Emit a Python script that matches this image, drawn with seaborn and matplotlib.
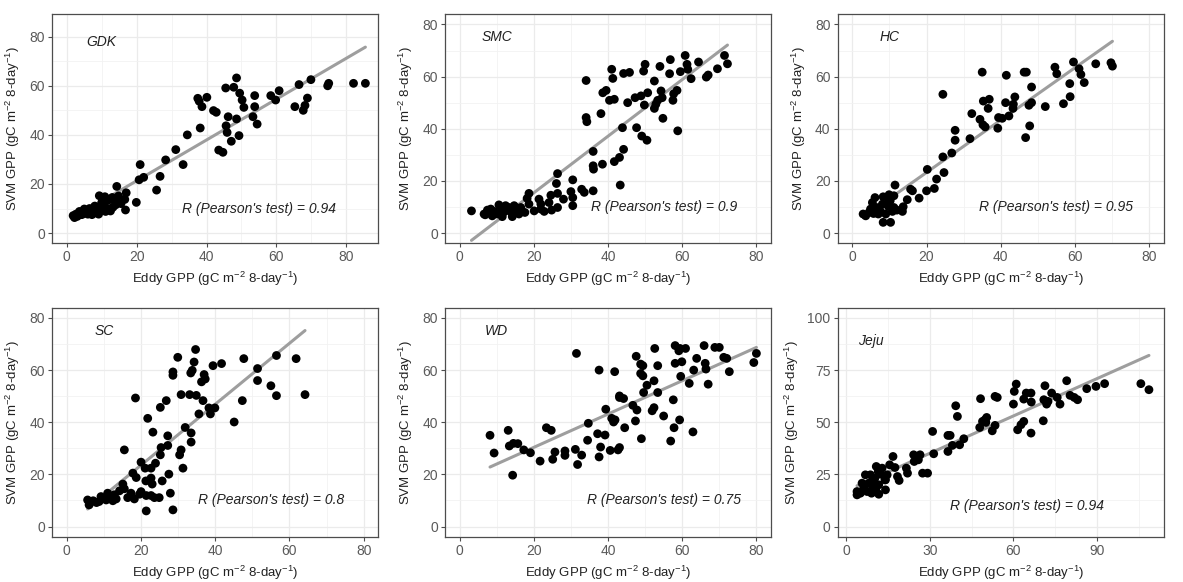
import numpy as np
import pandas as pd
import seaborn as sns
import matplotlib.pyplot as plt
from matplotlib.ticker import MultipleLocator

# ---- data (Eddy GPP vs SVM GPP, gC m-2 8-day-1) ----
sites = ["GDK", "SMC", "HC", "SC", "WD", "Jeju"]
r_values = ["0.94", "0.9", "0.95", "0.8", "0.75", "0.94"]

gdk_eddy = [85.5, 82.1, 75.0, 74.7, 69.9, 66.5, 68.9, 68.2, 67.7, 65.3,
            60.8, 59.8, 58.4, 53.8, 53.8, 53.3, 54.5, 50.7, 50.2, 49.5,
            49.3, 48.6, 47.8, 45.5, 48.6, 46.2, 47.1, 45.6, 45.9, 44.7,
            43.5, 42.8, 42.0, 40.1, 37.5, 37.9, 38.7, 38.2, 34.5, 31.2,
            33.3, 28.3, 26.7, 25.7, 21.0, 20.7, 22.0, 19.9, 17.0, 16.6,
            14.3, 14.8, 13.7, 13.2, 16.8, 10.9, 9.3, 10.6, 11.1, 9.6,
            9.1, 7.9, 6.9, 6.0, 5.0, 4.3, 3.6, 2.6, 1.8, 2.2,
            3.0, 5.5, 6.5, 7.2, 8.0, 10.0, 12.0, 13.0, 15.5, 14.0,
            7.5, 6.2, 4.8, 3.5, 11.8, 12.5]
gdk_svm = [61, 61, 61, 60, 62.5, 60.5, 55, 52, 50, 51.5,
           58, 54.2, 56, 56, 51.5, 47.4, 44.4, 51.2, 54.2, 57,
           39.7, 63.2, 59.4, 59.1, 46.5, 47.4, 37.4, 43.7, 41, 32.9,
           33.8, 49.2, 49.9, 55.3, 54.9, 53.7, 51.5, 42.8, 40, 34,
           27.9, 29.8, 23.1, 17.5, 27.9, 21.7, 22.7, 12.5, 16.4, 13.7,
           19, 15.1, 13.2, 10.5, 9.4, 14.8, 15.2, 11.8, 8.8, 10.5,
           7.7, 9.4, 8.4, 7.7, 9.8, 7.5, 8.8, 7.7, 7.1, 6.3,
           6.8, 8.5, 10, 7.5, 11, 12.5, 13.5, 14.5, 12, 11.5,
           8, 9, 8, 7.8, 10, 9]

smc_eddy = [71.4, 72.2, 69.5, 66.5, 67.0, 64.4, 62.4, 61.5, 60.8, 61.3,
            59.5, 58.6, 57.7, 57.5, 58.8, 56.8, 56.6, 54.0, 54.3, 54.6,
            53.4, 52.9, 52.5, 54.8, 52.5, 50.7, 50.0, 49.6, 49.8, 49.1,
            50.5, 48.9, 47.7, 47.3, 45.3, 45.8, 44.2, 43.9, 44.2, 43.1,
            43.3, 41.7, 41.7, 41.3, 41.0, 40.4, 39.5, 38.6, 38.1, 38.5,
            36.0, 36.0, 36.1, 36.0, 34.1, 34.1, 34.3, 32.9, 33.6, 30.5,
            30.0, 30.5, 30.5, 28.0, 26.4, 26.4, 26.1, 26.4, 24.6, 24.1,
            22.8, 21.9, 21.4, 21.9, 18.7, 18.2, 18.7, 17.6, 16.5, 15.1,
            14.2, 13.3, 12.4, 12.0, 11.1, 10.2, 9.3, 8.8, 7.5, 6.6,
            3.2, 13.8, 11.5, 8.4, 14.7, 10.6, 16.0, 20.1, 24.8, 6.9]
smc_svm = [68.1, 64.9, 63.0, 59.8, 60.6, 65.6, 59.2, 62.8, 68.1, 64.7,
           61.9, 54.7, 53.4, 50.9, 39.2, 66.5, 61.1, 63.9, 54.5, 51.9,
           50.9, 49.4, 47.8, 44.0, 58.3, 53.8, 64.7, 62.1, 49.1, 37.2,
           35.6, 52.6, 40.4, 51.9, 50.0, 61.6, 61.2, 40.4, 32.1, 29.0,
           18.4, 27.4, 51.3, 59.3, 62.8, 50.9, 54.7, 53.8, 45.8, 26.4,
           31.3, 25.8, 24.5, 16.2, 58.5, 44.3, 42.7, 16.8, 15.6, 20.4,
           15.9, 13.6, 10.5, 13.0, 15.2, 22.8, 19.0, 9.8, 14.5, 11.7,
           8.3, 9.2, 13.0, 11.1, 15.2, 13.3, 11.1, 7.9, 9.8, 8.5,
           6.3, 9.8, 10.5, 8.2, 9.2, 7.3, 8.3, 6.6, 8.8, 7.3,
           8.5, 8.1, 6.3, 9.2, 10.5, 10.8, 7.3, 8.5, 8.8, 7.0]

hc_eddy = [69.7, 70.1, 65.6, 59.6, 61.1, 61.6, 62.5, 58.6, 58.7, 56.9,
           54.6, 55.1, 52.0, 48.3, 48.3, 47.6, 47.8, 46.7, 46.9, 46.3,
           43.8, 43.4, 43.3, 42.2, 41.5, 41.3, 40.4, 39.4, 39.2, 36.9,
           36.6, 35.3, 35.0, 35.8, 35.2, 34.4, 32.2, 31.7, 27.7, 27.7,
           26.8, 24.4, 24.7, 24.4, 22.7, 22.1, 20.2, 20.0, 18.0, 16.2,
           15.7, 14.8, 13.7, 13.5, 11.5, 11.2, 9.9, 10.2, 9.7, 10.3,
           8.3, 8.3, 8.1, 7.6, 6.5, 6.1, 5.4, 4.9, 4.5, 3.6,
           2.9, 7.0, 9.0, 10.8, 12.0, 9.9, 11.2, 5.7]
hc_svm = [65.3, 64.0, 64.9, 65.6, 63.0, 60.8, 57.7, 57.3, 52.3, 49.6,
          63.6, 61.1, 48.5, 56.0, 50.0, 49.0, 41.1, 36.6, 61.7, 61.7,
          52.2, 49.4, 47.8, 44.9, 60.5, 50.0, 44.0, 44.3, 40.2, 51.3,
          47.8, 50.6, 61.7, 40.7, 41.5, 43.6, 45.8, 36.2, 39.4, 35.6,
          30.7, 29.2, 23.2, 53.2, 20.7, 17.1, 24.4, 16.2, 13.4, 16.2,
          16.8, 12.8, 10.1, 8.3, 18.4, 14.3, 14.7, 12.4, 10.2, 4.1,
          4.1, 13.9, 11.1, 8.3, 9.8, 13.6, 11.7, 9.2, 7.9, 6.6,
          7.3, 7.3, 7.3, 8.3, 8.8, 12.3, 9.8, 7.5]

sc_eddy = [64.2, 61.8, 56.5, 56.5, 55.0, 51.4, 51.4, 47.7, 47.3, 45.1,
           41.7, 39.4, 39.9, 38.7, 38.3, 37.3, 37.0, 36.7, 36.3, 35.6,
           34.9, 34.7, 34.3, 33.8, 33.4, 33.1, 33.5, 33.5, 31.9, 30.8,
           31.3, 30.8, 30.4, 29.9, 28.6, 28.6, 28.6, 27.9, 27.5, 27.2,
           27.2, 26.8, 25.4, 25.2, 25.7, 25.2, 23.9, 23.2, 23.0, 22.7,
           23.6, 21.3, 21.1, 21.8, 21.4, 21.4, 20.0, 19.6, 18.7, 18.5,
           17.8, 18.2, 15.5, 16.4, 15.1, 15.5, 14.2, 12.8, 12.4, 11.5,
           10.6, 9.2, 8.0, 7.1, 6.0, 5.6, 8.7, 11.0, 13.3, 17.3,
           22.7, 24.9, 20.0, 22.7]
sc_svm = [50.6, 64.4, 65.6, 50.2, 54.0, 60.6, 56.0, 64.4, 48.3, 40.1,
          62.5, 61.7, 45.5, 43.2, 45.5, 56.6, 58.3, 48.3, 55.5, 43.2,
          50.3, 67.9, 63.1, 59.9, 58.9, 50.6, 35.9, 32.4, 38.0, 50.6,
          22.4, 29.4, 27.5, 64.9, 59.3, 58.0, 6.4, 12.8, 20.1, 34.8,
          31.1, 48.3, 30.3, 27.5, 17.5, 45.7, 24.3, 36.2, 16.3, 18.6,
          11.1, 17.5, 22.4, 41.5, 6.0, 11.9, 13.4, 12.4, 18.8, 49.3,
          20.5, 10.6, 29.4, 11.1, 16.3, 14.5, 13.7, 12.2, 9.9, 11.8,
          10.2, 11.5, 9.2, 9.9, 8.3, 10.2, 9.6, 12.8, 10.6, 12.8,
          11.9, 11.1, 24.7, 22.4]

wd_eddy = [80.0, 79.3, 72.7, 72.0, 71.2, 70.0, 68.8, 65.9, 66.2, 66.4,
           67.0, 63.9, 63.1, 62.9, 61.9, 60.9, 59.4, 59.1, 59.9, 59.6,
           59.3, 58.1, 58.1, 57.6, 57.8, 56.9, 55.0, 53.4, 53.4, 52.6,
           52.4, 52.4, 51.9, 50.5, 49.4, 49.6, 49.4, 48.8, 48.8, 49.0,
           47.6, 47.8, 47.4, 46.7, 44.5, 44.2, 43.1, 43.1, 43.1, 42.7,
           41.9, 41.5, 41.0, 40.6, 41.8, 39.4, 39.2, 37.6, 38.0, 37.6,
           37.2, 34.7, 34.5, 32.9, 31.8, 31.2, 31.5, 28.4, 28.4, 25.7,
           25.1, 24.7, 23.4, 21.7, 19.1, 17.3, 15.7, 14.5, 13.4, 13.1,
           14.3, 9.3, 8.2]
wd_svm = [66.4, 62.9, 59.4, 64.5, 64.9, 68.7, 68.7, 69.4, 62.6, 60.4,
          54.6, 64.5, 60.0, 36.3, 54.9, 68.3, 68.3, 67.4, 63.2, 57.6,
          40.9, 69.4, 62.6, 48.6, 37.9, 32.8, 42.4, 61.7, 51.4, 68.3,
          55.9, 45.6, 44.4, 54.2, 57.8, 51.4, 61.7, 62.3, 58.7, 33.7,
          65.3, 44.7, 40.5, 46.5, 37.9, 49.1, 49.5, 50.1, 30.3, 29.4,
          40.9, 40.1, 41.5, 29.2, 59.4, 45.0, 35.1, 60.0, 30.5, 26.7,
          35.6, 39.6, 33.1, 27.4, 23.8, 29.6, 66.4, 29.0, 27.3, 28.6,
          25.8, 36.9, 37.9, 25.1, 28.3, 29.4, 31.8, 31.9, 30.9, 36.9,
          19.7, 28.2, 35.0]

jeju_eddy = [108.6, 105.7, 92.7, 89.6, 86.3, 83.0, 81.8, 80.3, 79.1, 76.7,
             75.7, 73.7, 72.4, 71.9, 71.3, 70.9, 70.7, 66.4, 66.3, 66.3,
             64.6, 63.7, 63.7, 62.7, 61.5, 61.0, 60.3, 60.0, 54.2, 53.4,
             53.4, 52.4, 50.4, 50.1, 49.8, 48.9, 47.9, 48.2, 42.2, 40.7,
             39.9, 39.3, 38.1, 37.3, 36.5, 36.5, 31.4, 31.0, 29.2, 27.4,
             26.5, 25.9, 24.4, 24.2, 22.0, 21.6, 19.0, 18.4, 17.5, 16.8,
             15.6, 14.7, 13.9, 14.1, 12.9, 12.3, 11.7, 11.7, 10.8, 10.3,
             9.5, 8.7, 8.1, 7.5, 6.9, 6.3, 5.1, 3.9, 3.9, 5.7,
             9.1, 10.8, 14.1, 9.5, 11.5]
jeju_svm = [65.6, 68.5, 68.5, 67.2, 66.1, 60.8, 61.9, 62.9, 69.9, 58.7,
            61.9, 64.0, 60.0, 58.7, 67.5, 60.8, 50.7, 59.7, 64.0, 44.8,
            64.0, 61.1, 50.4, 48.8, 46.4, 68.3, 64.8, 58.7, 61.9, 62.4,
            48.5, 45.9, 52.3, 49.9, 51.2, 50.4, 47.5, 61.3, 42.1, 39.2,
            52.8, 57.9, 38.9, 43.7, 43.7, 36.0, 34.9, 45.6, 25.6, 25.6,
            34.4, 32.0, 31.2, 34.4, 25.6, 28.0, 22.1, 24.0, 28.3, 33.6,
            29.6, 24.8, 22.4, 17.6, 28.0, 25.1, 20.0, 15.5, 28.8, 23.2,
            18.4, 24.8, 20.8, 16.8, 24.8, 18.4, 16.0, 15.2, 16.8, 20.8,
            16.0, 16.8, 22.4, 21.6, 26.4]

eddy_values = [gdk_eddy, smc_eddy, hc_eddy, sc_eddy, wd_eddy, jeju_eddy]
svm_values = [gdk_svm, smc_svm, hc_svm, sc_svm, wd_svm, jeju_svm]

df = pd.concat([pd.DataFrame({"site": s, "eddy": e, "svm": v})
                for s, e, v in zip(sites, eddy_values, svm_values)])

# ---- per-panel axis setup ----
xlims = [(-4.25, 89.25), (-4, 84), (-4, 84), (-4, 84), (-4, 84), (-3.1, 114)]
ylims = [(-4.25, 89.25), (-4, 84), (-4, 84), (-4, 84), (-4, 84), (-5, 105)]
xsteps = [20, 20, 20, 20, 20, 30]
ysteps = [20, 20, 20, 20, 20, 25]
name_pos = [(10, 78), (10, 75), (10, 75), (10, 75), (10, 75), (9, 89)]
r_pos = [(55, 10), (55, 10), (55, 10), (55, 10), (55, 10), (65, 10)]

sns.set_theme(style="whitegrid")
plt.rcParams["font.family"] = ["Liberation Sans", "DejaVu Sans"]
plt.rcParams["mathtext.fontset"] = "custom"
plt.rcParams["mathtext.rm"] = "Liberation Sans"
plt.rcParams["mathtext.default"] = "regular"

fig, axes = plt.subplots(2, 3, figsize=(11.83, 5.82), dpi=100)
fig.subplots_adjust(left=52 / 1183, right=1164 / 1183, top=1 - 14 / 582,
                    bottom=1 - 537 / 582, wspace=0.203, hspace=0.279)

xlab = "Eddy GPP (gC m$^{-2}$ 8-day$^{-1}$)"
ylab = "SVM GPP (gC m$^{-2}$ 8-day$^{-1}$)"

for i, (ax, site) in enumerate(zip(axes.flat, sites)):
    d = df[df["site"] == site]
    sns.regplot(data=d, x="eddy", y="svm", ax=ax, ci=None, scatter=False,
                color="#9e9e9e", line_kws=dict(lw=2.2, zorder=2))
    sns.scatterplot(data=d, x="eddy", y="svm", ax=ax, color="black",
                    s=40, edgecolor="none", zorder=3)

    ax.set_xlim(*xlims[i])
    ax.set_ylim(*ylims[i])
    ax.xaxis.set_major_locator(MultipleLocator(xsteps[i]))
    ax.yaxis.set_major_locator(MultipleLocator(ysteps[i]))
    ax.xaxis.set_minor_locator(MultipleLocator(xsteps[i] / 2))
    ax.yaxis.set_minor_locator(MultipleLocator(ysteps[i] / 2))
    ax.grid(which="major", color="#ebebeb", lw=0.9)
    ax.grid(which="minor", color="#f2f2f2", lw=0.6)
    ax.set_axisbelow(True)
    for sp in ax.spines.values():
        sp.set_color("#4d4d4d")
        sp.set_linewidth(0.9)
    ax.tick_params(which="major", length=3, width=0.8, color="#4d4d4d",
                   labelsize=10, labelcolor="#5a5a5a", pad=2, bottom=True, left=True)
    ax.tick_params(which="minor", length=0)

    ax.set_xlabel(xlab, fontsize=9.5, color="#222222", labelpad=4)
    ax.set_ylabel(ylab, fontsize=9.5, color="#222222", labelpad=5)

    ax.text(*name_pos[i], site, style="italic", fontsize=10,
            ha="center", va="center", color="#222222")
    ax.text(*r_pos[i], f"R (Pearson's test) = {r_values[i]}", style="italic",
            fontsize=10, ha="center", va="center", color="#222222")

plt.savefig("out.png", dpi=100)
